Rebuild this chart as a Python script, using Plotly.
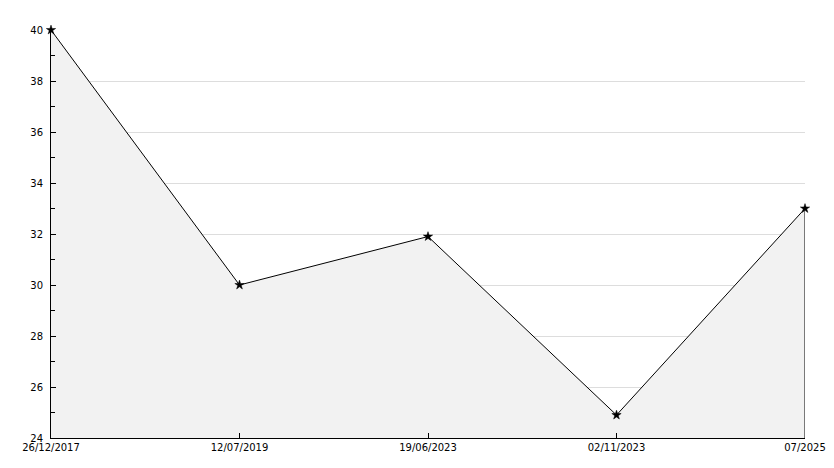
import plotly.graph_objects as go

dates = ["26/12/2017", "12/07/2019", "19/06/2023", "02/11/2023", "07/2025"]
values = [40, 30, 31.9, 24.9, 33]
y_min, y_max = 24, 40

fig = go.Figure()
fig.add_trace(go.Scatter(
    x=dates, y=values, mode="lines",
    line=dict(color="black", width=1),
    fill="tozeroy", fillcolor="#f2f2f2",
    showlegend=False, hoverinfo="skip",
))
# right edge of the filled area
fig.add_trace(go.Scatter(
    x=[dates[-1], dates[-1]], y=[y_min, values[-1]], mode="lines",
    line=dict(color="black", width=1), showlegend=False, hoverinfo="skip",
))
fig.add_trace(go.Scatter(
    x=dates, y=values, mode="markers",
    marker=dict(symbol="star", size=7, color="black", line=dict(width=0.5, color="black")),
    cliponaxis=False, showlegend=False, hoverinfo="x+y",
))

fig.update_layout(
    width=818, height=452,
    margin=dict(l=43, r=21, t=22, b=22),
    paper_bgcolor="white", plot_bgcolor="white",
    font=dict(family="DejaVu Sans", size=10, color="black"),
)
fig.update_xaxes(
    type="category", range=[0, len(dates) - 1], automargin=False,
    showgrid=False, zeroline=False,
    showline=True, linecolor="black", linewidth=1,
    ticks="inside", ticklen=5, tickcolor="black",
    tickfont=dict(size=10),
)
fig.update_yaxes(
    range=[y_min, y_max], dtick=2, tick0=0, automargin=False,
    showgrid=True, gridcolor="#dddddd", gridwidth=1, zeroline=False,
    showline=True, linecolor="black", linewidth=1,
    ticks="inside", ticklen=5, tickcolor="black",
    minor=dict(ticks="inside", ticklen=4, dtick=1, tickcolor="black", showgrid=False),
    tickfont=dict(size=10), ticklabelstandoff=5,
)
fig.write_html("out.html")
